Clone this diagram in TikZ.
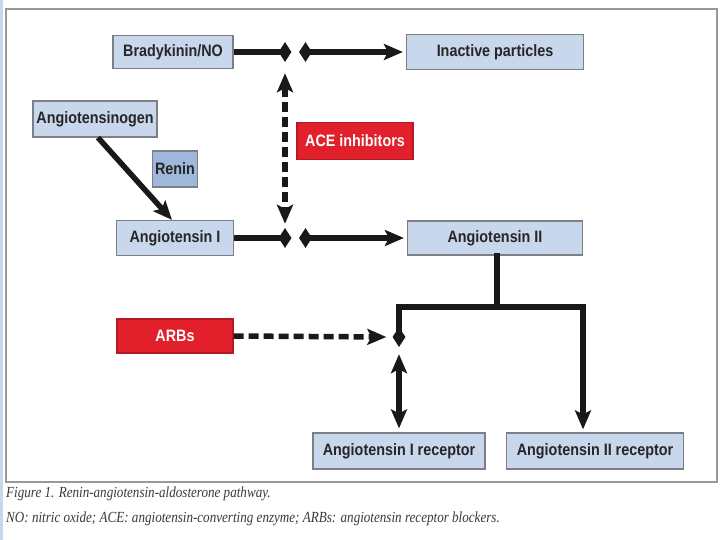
\documentclass[tikz,border=0pt]{standalone}
\usepackage{fontspec}
\setmainfont{Liberation Serif}
\newfontfamily\boxfont[FakeStretch=0.87]{Liberation Sans}
\newfontfamily\capfont[FakeStretch=0.85]{Liberation Serif}
\usetikzlibrary{arrows.meta,shapes.geometric}
\definecolor{boxblue}{HTML}{C8D7EC}
\definecolor{reninblue}{HTML}{9FB7DA}
\definecolor{boxedge}{HTML}{7E7E86}
\definecolor{redfill}{HTML}{E1202B}
\definecolor{capgray}{HTML}{3A3A3A}
\tikzset{
  box/.style={draw=boxedge, line width=1.2pt, fill=boxblue, inner sep=0pt,
    font=\boxfont\bfseries\fontsize{16.5}{18}\selectfont, text=black!85},
  redbox/.style={box, fill=redfill, draw=redfill!80!black, text=white},
  dia/.style={diamond, fill=black!90, draw=none, inner sep=0pt, minimum width=13pt, minimum height=20pt},
  conn/.style={line width=5.5pt, black!90},
  tip/.tip={Stealth[length=19pt,width=16pt,inset=4pt]},
  arr/.style={conn, -tip},
  darr/.style={conn, tip-tip},
  dashline/.style={dash pattern=on 10pt off 5pt}
}
\begin{document}
\begin{tikzpicture}[x=1pt,y=-1pt]
\useasboundingbox (0,0) rectangle (720,540);
\fill[white] (0,0) rectangle (720,540);
\fill[boxblue] (0,0) rectangle (2.5,540);
\draw[boxedge!80, line width=1.5pt] (6,9) rectangle (717,482);

\node[box, minimum width=120pt, minimum height=33pt] (brady) at (173,52) {Bradykinin/NO};
\node[box, minimum width=177pt, minimum height=35pt] (inact) at (495,52) {Inactive particles};
\node[box, minimum width=124pt, minimum height=36pt] (agen) at (95,119) {Angiotensinogen};
\node[box, fill=reninblue, minimum width=45pt, minimum height=36pt] (renin) at (175,169) {Renin};
\node[box, minimum width=117pt, minimum height=35pt] (ang1) at (175,238) {Angiotensin I};
\node[box, minimum width=175pt, minimum height=34pt] (ang2) at (495,238) {Angiotensin II};
\node[redbox, minimum width=116pt, minimum height=37pt] (ace) at (355,141) {ACE inhibitors};
\node[redbox, minimum width=116pt, minimum height=34pt] (arbs) at (175,336) {ARBs};
\node[box, minimum width=172pt, minimum height=36pt] (r1) at (399,451) {Angiotensin I receptor};
\node[box, minimum width=177pt, minimum height=36pt] (r2) at (595,451) {Angiotensin II receptor};

\node[dia] (d1) at (285,52) {};
\node[dia] (d2) at (305.5,52) {};
\node[dia] (d3) at (285,238) {};
\node[dia] (d4) at (305.5,238) {};
\node[dia] (d5) at (399,337) {};

\coordinate (split) at (497,307);
\coordinate (sl) at (399,307);
\coordinate (sr) at (583,307);

\draw[conn] (brady.east) -- (d1.center);
\draw[arr] (d2.center) -- ([xshift=-3pt]inact.west);
\draw[conn] (ang1.east) -- (d3.center);
\draw[arr] (d4.center) -- ([xshift=-3pt]ang2.west);
\draw[darr, dashline] ([yshift=-11pt]d1.south) -- ([yshift=4pt]d3.north);
\draw[arr] ([xshift=3pt]agen.south) -- ([xshift=-3pt]ang1.north);
\draw[conn, line cap=rect] (ang2.south -| split) -- (split);
\draw[conn, line join=miter] (d5.center) -- (sl) -- (sr) -- ([yshift=20pt]r2.north -| sr);
\draw[arr] (sr) -- ([yshift=3pt]r2.north -| sr);
\draw[arr, dashline] (arbs.east) -- ([xshift=-6pt]d5.west);
\draw[darr] ([yshift=-7pt]d5.south) -- ([yshift=4pt]r1.north -| d5);

\node[anchor=west, text=capgray, font=\capfont\itshape\fontsize{15.4}{17}\selectfont, inner sep=0pt] (cap1) at (6,494) {Figure 1. Renin-angiotensin-aldosterone pathway.};
\node[anchor=west, text=capgray, font=\capfont\itshape\fontsize{15.4}{17}\selectfont, inner sep=0pt] (cap2) at (6,519) {NO: nitric oxide; ACE: angiotensin-converting enzyme; ARBs: angiotensin receptor blockers.};
\end{tikzpicture}
\end{document}
